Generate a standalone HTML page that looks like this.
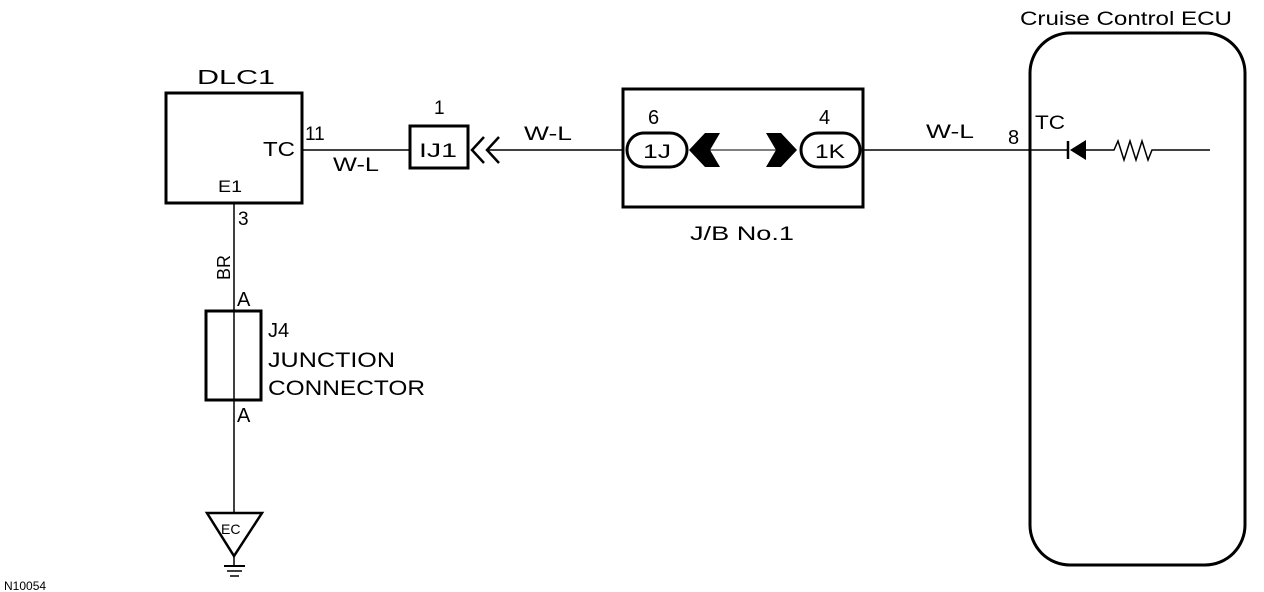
<!DOCTYPE html>
<html><head><meta charset="utf-8"><style>
html,body{margin:0;padding:0;background:#fff;}
svg{display:block;}
text{font-family:"Liberation Sans",sans-serif;fill:#000;}
</style></head><body>
<svg width="1264" height="592" viewBox="0 0 1264 592" xmlns="http://www.w3.org/2000/svg">
<g stroke="#000" fill="none">
<rect x="166" y="93" width="136" height="110" stroke-width="3"/>
<line x1="302" y1="150" x2="409" y2="150" stroke-width="1.5"/>
<rect x="410" y="126" width="58" height="42" stroke-width="3"/>
<polyline points="484,137 472,150 484,163" stroke-width="2.5"/>
<polyline points="499,137 487,150 499,163" stroke-width="2.5"/>
<line x1="488" y1="150" x2="623" y2="150" stroke-width="1.5"/>
<rect x="623" y="89" width="240" height="118" stroke-width="3"/>
<rect x="627" y="133" width="60" height="34" rx="17" stroke-width="3"/>
<rect x="801" y="133" width="59" height="34" rx="17" stroke-width="3"/>
<line x1="700" y1="150" x2="785" y2="150" stroke-width="1"/>
<line x1="863" y1="150" x2="1030" y2="150" stroke-width="1.5"/>
<rect x="1030" y="33" width="215" height="532" rx="40" stroke-width="3"/>
<line x1="1030" y1="150" x2="1068" y2="150" stroke-width="1.5"/>
<line x1="1068" y1="141" x2="1068" y2="159" stroke-width="2.5"/>
<polyline points="1084,150 1114,150 1118,141 1124,160 1130,141 1136,160 1142,141 1148,160 1152,150 1210,150" stroke-width="1.5"/>
<line x1="234" y1="203" x2="234" y2="513" stroke-width="1.5"/>
<rect x="206" y="311" width="55" height="89" stroke-width="3"/>
<polygon points="207,513 262,513 234,556" stroke-width="2.5"/>
<line x1="234" y1="556" x2="234" y2="566" stroke-width="1.5"/>
<line x1="224" y1="566" x2="245" y2="566" stroke-width="2"/>
<line x1="227" y1="571" x2="242" y2="571" stroke-width="1.5"/>
<line x1="230" y1="576" x2="239" y2="576" stroke-width="1.5"/>
</g>
<g fill="#000">
<polygon points="705,133 720,133 710,150 720,167 705,167 689,150"/>
<polygon points="766,133 781,133 797,150 781,167 766,167 776,150"/>
<polygon points="1086,140 1086,160 1070,150"/>
</g>
<text x="197" y="84" font-size="20" textLength="78" lengthAdjust="spacingAndGlyphs">DLC1</text>
<text x="263" y="156" font-size="20" textLength="32" lengthAdjust="spacingAndGlyphs">TC</text>
<text x="305" y="140" font-size="19">11</text>
<text x="333" y="171" font-size="19" textLength="46" lengthAdjust="spacingAndGlyphs">W-L</text>
<text x="434" y="114" font-size="19">1</text>
<text x="419" y="157" font-size="19" textLength="38" lengthAdjust="spacingAndGlyphs">IJ1</text>
<text x="524" y="140" font-size="19" textLength="48" lengthAdjust="spacingAndGlyphs">W-L</text>
<text x="648" y="124" font-size="20">6</text>
<text x="819" y="124" font-size="20">4</text>
<text x="643" y="158" font-size="19" textLength="28" lengthAdjust="spacingAndGlyphs">1J</text>
<text x="815" y="158" font-size="19" textLength="30" lengthAdjust="spacingAndGlyphs">1K</text>
<text x="690" y="240" font-size="19" textLength="104" lengthAdjust="spacingAndGlyphs">J/B No.1</text>
<text x="926" y="138" font-size="19" textLength="48" lengthAdjust="spacingAndGlyphs">W-L</text>
<text x="1020" y="25" font-size="19" textLength="212" lengthAdjust="spacingAndGlyphs">Cruise Control ECU</text>
<text x="1008" y="144" font-size="20">8</text>
<text x="1035" y="129" font-size="19" textLength="30" lengthAdjust="spacingAndGlyphs">TC</text>
<text x="218" y="192" font-size="17" textLength="24" lengthAdjust="spacingAndGlyphs">E1</text>
<text x="238" y="225" font-size="19">3</text>
<text transform="translate(230,280) rotate(-90)" font-size="18">BR</text>
<text x="237" y="306" font-size="20">A</text>
<text x="268" y="337" font-size="20">J4</text>
<text x="268" y="367" font-size="21" textLength="127" lengthAdjust="spacingAndGlyphs">JUNCTION</text>
<text x="268" y="395" font-size="21" textLength="157" lengthAdjust="spacingAndGlyphs">CONNECTOR</text>
<text x="237" y="422" font-size="20">A</text>
<text x="221" y="534" font-size="14">EC</text>
<text x="4" y="590" font-size="12">N10054</text>
</svg>
</body></html>
